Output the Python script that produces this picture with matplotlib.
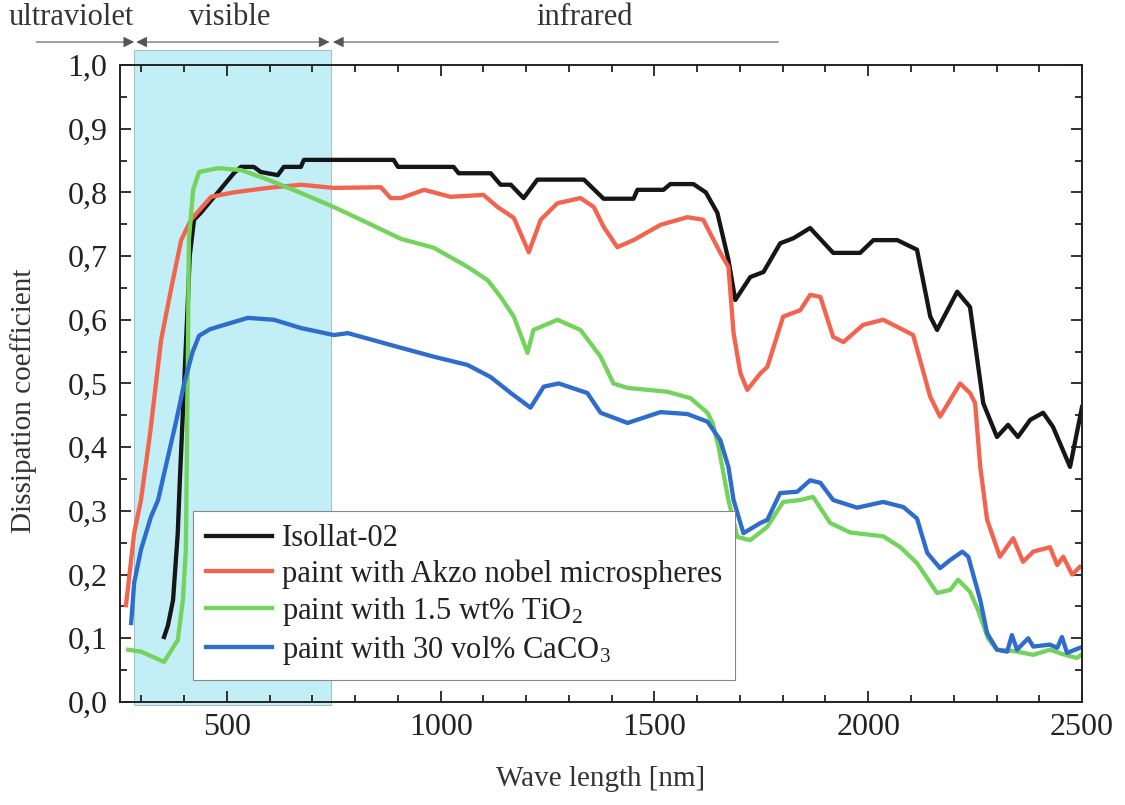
import matplotlib
matplotlib.use("Agg")
import matplotlib.pyplot as plt
from matplotlib.patches import Rectangle
from matplotlib.ticker import MultipleLocator, FuncFormatter

plt.rcParams['font.family'] = ['Liberation Serif', 'DejaVu Serif']
plt.rcParams['mathtext.fontset'] = 'custom'
plt.rcParams['mathtext.rm'] = 'Liberation Serif'
plt.rcParams['mathtext.it'] = 'Liberation Serif:italic'

# Isollat-02
iso_x = [353, 362, 374, 385, 390, 400, 408, 413, 423, 439, 460, 479, 516, 533, 563, 579,
         619, 633, 673, 680, 890, 900, 1030, 1042, 1117, 1140, 1164, 1194, 1226, 1335,
         1381, 1451, 1460, 1521, 1537, 1591, 1620, 1647, 1673, 1689, 1724, 1755, 1794,
         1825, 1864, 1918, 1981, 2012, 2068, 2114, 2145, 2161, 2208, 2238, 2269, 2301,
         2327, 2350, 2379, 2409, 2432, 2472, 2500]
iso_y = [0.102, 0.12, 0.16, 0.265, 0.35, 0.50, 0.62, 0.70, 0.757, 0.768, 0.785, 0.80, 0.83,
         0.84, 0.84, 0.832, 0.827, 0.84, 0.84, 0.851, 0.851, 0.84, 0.84, 0.83, 0.83, 0.812,
         0.812, 0.791, 0.82, 0.82, 0.79, 0.79, 0.804, 0.804, 0.813, 0.813, 0.80, 0.768,
         0.694, 0.631, 0.667, 0.675, 0.72, 0.728, 0.744, 0.705, 0.705, 0.725, 0.725, 0.71,
         0.605, 0.584, 0.644, 0.62, 0.469, 0.416, 0.435, 0.416, 0.443, 0.454, 0.432, 0.369,
         0.463]

# Akzo nobel microspheres
akzo_x = [264, 283, 299, 320, 346, 369, 393, 416, 463, 516, 596, 673, 750, 860, 883, 907,
          961, 1023, 1100, 1133, 1171, 1206, 1234, 1273, 1327, 1358, 1381, 1413, 1451,
          1514, 1577, 1614, 1654, 1673, 1685, 1701, 1717, 1748, 1764, 1801, 1841, 1864,
          1888, 1918, 1942, 1988, 2035, 2082, 2105, 2145, 2168, 2215, 2238, 2250, 2262,
          2278, 2308, 2339, 2362, 2386, 2425, 2442, 2456, 2477, 2495]
akzo_y = [0.152, 0.265, 0.317, 0.42, 0.568, 0.647, 0.725, 0.757, 0.793, 0.80, 0.807, 0.812,
          0.807, 0.808, 0.791, 0.791, 0.804, 0.793, 0.796, 0.777, 0.76, 0.706, 0.757,
          0.783, 0.791, 0.777, 0.746, 0.714, 0.725, 0.749, 0.761, 0.757, 0.705, 0.683,
          0.579, 0.516, 0.49, 0.516, 0.526, 0.605, 0.615, 0.639, 0.636, 0.573, 0.565,
          0.592, 0.60, 0.584, 0.576, 0.479, 0.448, 0.50, 0.485, 0.469, 0.369, 0.286,
          0.228, 0.257, 0.22, 0.236, 0.243, 0.215, 0.228, 0.20, 0.212]

# 1.5 wt% TiO2
tio2_x = [269, 299, 353, 385, 397, 404, 409, 411, 421, 435, 479, 533, 596, 673, 750, 829,
          907, 984, 1063, 1110, 1140, 1171, 1203, 1217, 1273, 1327, 1374, 1404, 1437,
          1530, 1584, 1624, 1636, 1650, 1673, 1694, 1724, 1764, 1801, 1841, 1871, 1911,
          1958, 2035, 2075, 2114, 2161, 2192, 2210, 2238, 2257, 2280, 2301, 2340, 2386,
          2425, 2455, 2488, 2500]
tio2_y = [0.082, 0.079, 0.063, 0.097, 0.16, 0.24, 0.568, 0.725, 0.804, 0.832, 0.838, 0.835,
          0.82, 0.799, 0.777, 0.752, 0.727, 0.713, 0.683, 0.662, 0.636, 0.605, 0.548,
          0.584, 0.60, 0.584, 0.542, 0.50, 0.493, 0.487, 0.477, 0.454, 0.438, 0.40, 0.317,
          0.259, 0.254, 0.275, 0.314, 0.317, 0.322, 0.281, 0.266, 0.26, 0.243, 0.218,
          0.171, 0.176, 0.192, 0.173, 0.144, 0.10, 0.082, 0.08, 0.074, 0.082, 0.075,
          0.069, 0.075]

# 30 vol% CaCO3
caco_x = [276, 283, 299, 322, 339, 357, 381, 400, 420, 435, 460, 479, 549, 610, 673, 750,
          783, 907, 984, 1063, 1117, 1164, 1210, 1241, 1276, 1343, 1374, 1437, 1514, 1577,
          1624, 1654, 1673, 1685, 1708, 1748, 1764, 1794, 1834, 1864, 1888, 1918, 1974,
          2035, 2082, 2114, 2138, 2168, 2192, 2220, 2234, 2262, 2278, 2301, 2325, 2336,
          2348, 2374, 2386, 2425, 2442, 2453, 2465, 2495]
caco_y = [0.124, 0.187, 0.239, 0.29, 0.317, 0.37, 0.44, 0.50, 0.55, 0.575, 0.585, 0.589,
          0.603, 0.60, 0.587, 0.576, 0.579, 0.556, 0.542, 0.529, 0.51, 0.485, 0.462, 0.495,
          0.50, 0.485, 0.454, 0.438, 0.455, 0.452, 0.44, 0.411, 0.369, 0.317, 0.265, 0.281,
          0.286, 0.328, 0.33, 0.348, 0.344, 0.317, 0.305, 0.314, 0.306, 0.288, 0.234, 0.21,
          0.223, 0.236, 0.228, 0.16, 0.108, 0.082, 0.079, 0.105, 0.082, 0.10, 0.087, 0.09,
          0.085, 0.102, 0.077, 0.085]

labels = ['Isollat-02', 'paint with Akzo nobel microspheres',
          'paint with 1.5 wt% TiO$_2$', 'paint with 30 vol% CaCO$_3$']
colors = ['#161616', '#f2644e', '#74d35c', '#2e6dcc']

fig = plt.figure(figsize=(11.25, 8.05), dpi=100)
ax = fig.add_axes([0.1067, 0.128, 0.8551, 0.7913])

# visible band, reaches a bit above the frame
ax.add_patch(Rectangle((283, -0.005), 460, 1.029, facecolor='#c2eef6', edgecolor='#9fb4b8',
                       lw=0.6, zorder=0, clip_on=False))

for xs, ys, c, lab in zip([iso_x, akzo_x, tio2_x, caco_x], [iso_y, akzo_y, tio2_y, caco_y],
                          colors, labels):
    ax.plot(xs, ys, color=c, lw=3.1, label=lab, zorder=3)

ax.set_xlim(250, 2500)
ax.set_ylim(0, 1.0)
ax.xaxis.set_major_locator(MultipleLocator(500))
ax.xaxis.set_minor_locator(MultipleLocator(100))
ax.yaxis.set_major_locator(MultipleLocator(0.1))
ax.yaxis.set_minor_locator(MultipleLocator(0.05))
ax.yaxis.set_major_formatter(FuncFormatter(lambda v, p: f"{v:.1f}".replace('.', ',')))
ax.tick_params(which='both', direction='in', top=True, right=True, width=1.3,
               labelsize=23, colors='#222222')
ax.tick_params(which='major', length=8)
ax.tick_params(which='minor', length=5)
ax.tick_params(axis='x', pad=8)
ax.tick_params(axis='y', pad=9)
for s in ax.spines.values():
    s.set_linewidth(1.4)
    s.set_color('#222222')
    s.set_zorder(4)

ax.set_xlabel('Wave length [nm]', fontsize=21, color='#333333')
ax.set_ylabel('Dissipation coefficient', fontsize=21, color='#333333')
ax.xaxis.set_label_coords(0.499, -0.100)
ax.yaxis.set_label_coords(-0.086, 0.473)

# spectral ranges over the plot
arr_y = 1.036
ax.annotate('', xy=(283, arr_y), xytext=(54, arr_y), annotation_clip=False,
            arrowprops=dict(arrowstyle='-|>', color='#555555', lw=0.8, mutation_scale=16,
                            shrinkA=0, shrinkB=0))
ax.annotate('', xy=(288, arr_y), xytext=(740, arr_y), annotation_clip=False,
            arrowprops=dict(arrowstyle='<|-|>', color='#555555', lw=0.8, mutation_scale=16,
                            shrinkA=0, shrinkB=0))
ax.annotate('', xy=(748, arr_y), xytext=(1790, arr_y), annotation_clip=False,
            arrowprops=dict(arrowstyle='-|>', color='#555555', lw=0.8, mutation_scale=16,
                            shrinkA=0, shrinkB=0))
ax.text(135, 1.074, 'ultraviolet', fontsize=22, ha='center', va='center', color='#333333')
ax.text(507, 1.074, 'visible', fontsize=22, ha='center', va='center', color='#333333')
ax.text(1336, 1.074, 'infrared', fontsize=22, ha='center', va='center', color='#333333')

leg = ax.legend(loc='lower left', bbox_to_anchor=(0.0759, 0.0345), borderaxespad=0,
                fontsize=22, frameon=True, fancybox=False, framealpha=1,
                edgecolor='#888888', handlelength=2.15, handletextpad=0.33,
                labelspacing=0.2, borderpad=0.42)
leg.get_frame().set_linewidth(0.8)
leg.set_zorder(5)
for t in leg.get_texts():
    t.set_color('#222222')

fig.savefig('out.png', dpi=100)
